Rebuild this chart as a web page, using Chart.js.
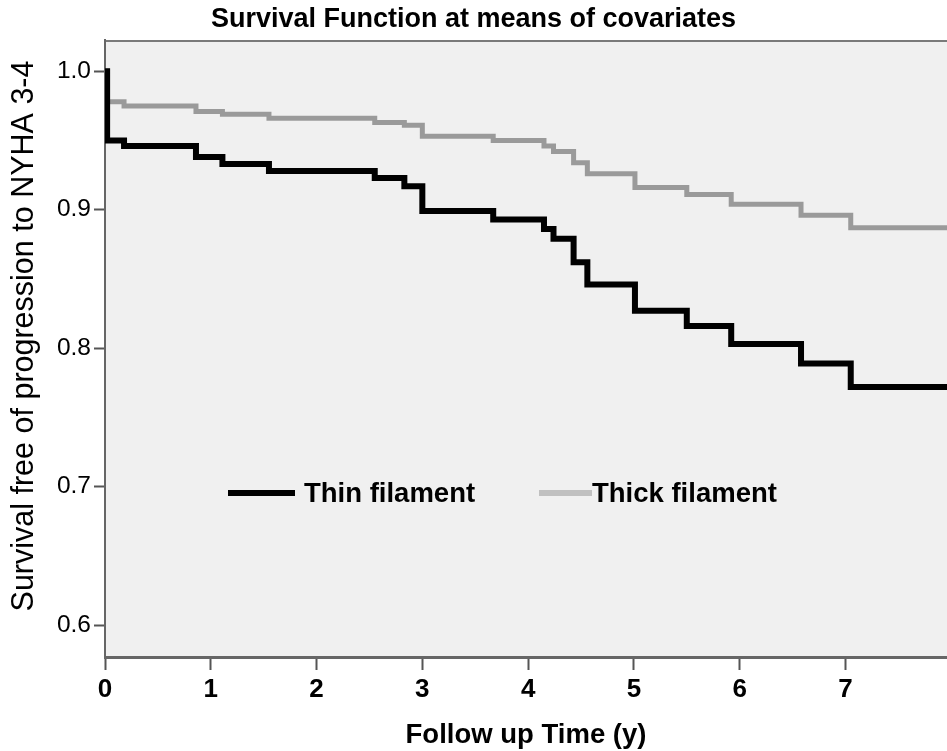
<!DOCTYPE html>
<html>
<head>
<meta charset="utf-8">
<script src="https://cdn.jsdelivr.net/npm/chart.js@4.4.1/dist/chart.umd.min.js"></script>
<style>
  html, body { margin: 0; padding: 0; background: #ffffff; }
  #wrap { width: 947px; height: 751px; position: relative; }
</style>
</head>
<body>
<div id="wrap"><canvas id="c" width="947" height="751"></canvas></div>
<script>
// ---- data ----
const titleText = "Survival Function at means of covariates";
const xTitle = "Follow up Time (y)";
const yTitle = "Survival free of progression to NYHA 3-4";
const seriesNames = ["Thin filament", "Thick filament"];
const times = [0, 0.02, 0.18, 0.86, 1.11, 1.55, 2.55, 2.83, 3.00, 3.67, 4.15, 4.24, 4.43, 4.56, 5.01, 5.50, 5.92, 6.58, 7.05, 7.96];
const thinValues = [1.0, 0.950, 0.946, 0.938, 0.933, 0.928, 0.923, 0.917, 0.899, 0.893, 0.886, 0.879, 0.862, 0.846, 0.827, 0.816, 0.803, 0.789, 0.772, 0.772];
const thickValues = [1.0, 0.978, 0.975, 0.971, 0.969, 0.966, 0.963, 0.961, 0.953, 0.950, 0.946, 0.942, 0.934, 0.926, 0.916, 0.911, 0.904, 0.896, 0.887, 0.887];
const xTicks = [0, 1, 2, 3, 4, 5, 6, 7];
const yTicks = [0.6, 0.7, 0.8, 0.9, 1.0];

const FONT = "'Liberation Sans', Arial, Helvetica, sans-serif";

const toPts = (vals) => times.map((t, i) => ({ x: t, y: vals[i] }));

const bgPlugin = {
  id: 'bg',
  beforeDraw(chart) {
    const { ctx, chartArea: a } = chart;
    ctx.save();
    ctx.fillStyle = '#ffffff';
    ctx.fillRect(0, 0, chart.width, chart.height);
    ctx.fillStyle = '#f0f0f0';
    ctx.fillRect(a.left, a.top, a.right - a.left, a.bottom - a.top);
    ctx.strokeStyle = '#7a7a7a';
    ctx.lineWidth = 2;
    ctx.beginPath();
    ctx.moveTo(a.left, a.top + 1);
    ctx.lineTo(a.right, a.top + 1);
    ctx.stroke();
    ctx.restore();
  },
  afterDraw(chart) {
    // y-axis title, placed slightly above the plot centre as in the reference
    const { ctx } = chart;
    ctx.save();
    ctx.translate(25, 336);
    ctx.rotate(-Math.PI / 2);
    ctx.font = "normal 30.5px " + FONT;
    ctx.fillStyle = '#000000';
    ctx.textAlign = 'center';
    ctx.textBaseline = 'middle';
    ctx.fillText(yTitle, 0, 0);
    ctx.restore();
  }
};

const legendPlugin = {
  id: 'inlineLegend',
  afterDatasetsDraw(chart) {
    const { ctx } = chart;
    const y = 493;
    const items = [
      { x1: 228, x2: 295, tx: 304, color: '#000000', w: 6, label: seriesNames[0] },
      { x1: 539, x2: 592, tx: 592, color: '#c0c0c0', w: 6, label: seriesNames[1] }
    ];
    ctx.save();
    ctx.font = "bold 27.5px " + FONT;
    ctx.textBaseline = 'middle';
    ctx.textAlign = 'left';
    items.forEach(it => {
      ctx.strokeStyle = it.color;
      ctx.lineWidth = it.w;
      ctx.beginPath();
      ctx.moveTo(it.x1, y);
      ctx.lineTo(it.x2, y);
      ctx.stroke();
      ctx.fillStyle = '#000000';
      ctx.fillText(it.label, it.tx, y + 1);
    });
    ctx.restore();
  }
};

new Chart(document.getElementById('c'), {
  type: 'line',
  data: {
    datasets: [
      {
        label: seriesNames[0],
        data: toPts(thinValues),
        borderColor: '#000000',
        borderWidth: 6,
        stepped: 'before',
        pointRadius: 0,
        fill: false,
        borderJoinStyle: 'miter',
        borderCapStyle: 'butt'
      },
      {
        label: seriesNames[1],
        data: toPts(thickValues),
        borderColor: '#9a9a9a',
        borderWidth: 5,
        stepped: 'before',
        pointRadius: 0,
        fill: false,
        borderJoinStyle: 'miter',
        borderCapStyle: 'butt'
      }
    ]
  },
  options: {
    responsive: false,
    animation: false,
    devicePixelRatio: 1,
    layout: { padding: 0 },
    plugins: {
      legend: { display: false },
      tooltip: { enabled: false },
      title: {
        display: true,
        text: titleText,
        color: '#000000',
        font: { family: FONT, size: 27, weight: 'bold', lineHeight: 1.2 },
        padding: { top: 3.5, bottom: 4.1 }
      }
    },
    scales: {
      x: {
        type: 'linear',
        min: 0,
        max: 7.96,
        afterFit(scale) { scale.height = 94; },
        afterBuildTicks(scale) { scale.ticks = xTicks.map(v => ({ value: v })); },
        grid: { drawOnChartArea: false, drawTicks: true, tickLength: 13, tickColor: '#555555', tickWidth: 2 },
        border: { display: true, color: '#666666', width: 3 },
        ticks: {
          color: '#000000',
          padding: 4,
          maxRotation: 0,
          autoSkip: false,
          font: { family: FONT, size: 26, weight: 'bold' },
          callback: (v) => String(v)
        },
        title: {
          display: true,
          text: xTitle,
          color: '#000000',
          font: { family: FONT, size: 27.5, weight: 'bold', lineHeight: 1.0 },
          padding: { top: 0, bottom: 2 }
        }
      },
      y: {
        type: 'linear',
        min: 0.5769,
        max: 1.0226,
        afterFit(scale) { scale.width = 105; },
        afterBuildTicks(scale) { scale.ticks = yTicks.map(v => ({ value: v })); },
        grid: { drawOnChartArea: false, drawTicks: true, tickLength: 11, tickColor: '#555555', tickWidth: 2 },
        border: { display: true, color: '#666666', width: 2 },
        ticks: {
          color: '#000000',
          padding: 3,
          autoSkip: false,
          font: { family: FONT, size: 24.5, weight: 'normal' },
          callback: (v) => Number(v).toFixed(1)
        },
        title: { display: false }
      }
    }
  },
  plugins: [bgPlugin, legendPlugin]
});
</script>
</body>
</html>
